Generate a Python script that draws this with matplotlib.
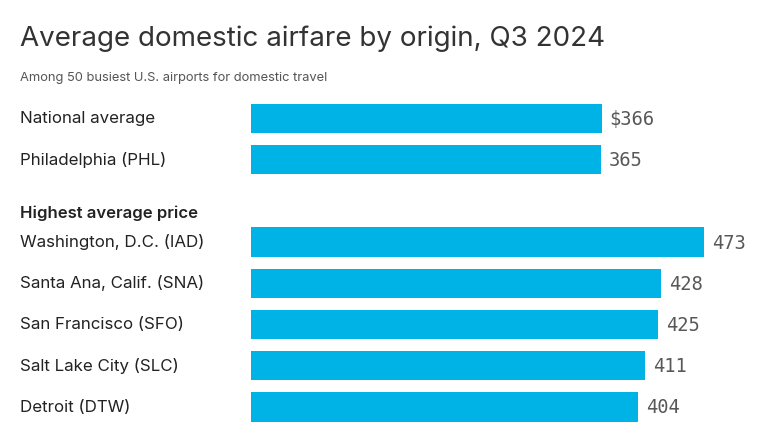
import matplotlib
matplotlib.use("Agg")
import matplotlib.pyplot as plt
from matplotlib.transforms import blended_transform_factory

labels = ["National average", "Philadelphia (PHL)", "Washington, D.C. (IAD)",
          "Santa Ana, Calif. (SNA)", "San Francisco (SFO)", "Salt Lake City (SLC)",
          "Detroit (DTW)"]
values = [366, 365, 473, 428, 425, 411, 404]
row_pos = [0, 1, 3, 4, 5, 6, 7]
section_header = "Highest average price"
title = "Average domestic airfare by origin, Q3 2024"
subtitle = "Among 50 busiest U.S. airports for domestic travel"

W, H = 768, 432
fig = plt.figure(figsize=(W / 100, H / 100), dpi=100)
fig.patch.set_facecolor("white")

BAR = "#00b3e6"
step = 41.2
top_c = 118.5
ax_top = top_c - step / 2
ax_bot = top_c + 7 * step + step / 2
x0, x1 = 251, 704
ax = fig.add_axes([x0 / W, 1 - ax_bot / H, (x1 - x0) / W, (ax_bot - ax_top) / H])
ax.set_xlim(0, max(values))
ax.set_ylim(7.5, -0.5)
ax.axis("off")

ax.barh(row_pos, values, height=0.71, color=BAR, edgecolor="none")

tr = blended_transform_factory(fig.transFigure, ax.transData)
for i, (lab, v, y) in enumerate(zip(labels, values, row_pos)):
    ax.annotate(lab, (20 / W, y), xycoords=tr, xytext=(0, -4.8),
                textcoords="offset pixels", ha="left", va="baseline",
                fontsize=12.2, color="#222222", family="Inter")
    txt = f"${v}" if i == 0 else f"{v}"
    ax.annotate(txt, (v, y), xytext=(8, -6.5), textcoords="offset pixels",
                ha="left", va="baseline", fontsize=13.5, color="#585858",
                family="DejaVu Sans Mono", annotation_clip=False)

ax.annotate(section_header, (20 / W, (212.7 - top_c) / step), xycoords=tr,
            xytext=(0, -5.6), textcoords="offset pixels", ha="left",
            va="baseline", fontsize=12, color="#222222", family="Inter",
            fontweight="semibold")

fig.text(20 / W, 1 - 46.5 / H, title, ha="left", va="baseline", fontsize=20,
         color="#333333", family="Inter")
fig.text(20 / W, 1 - 81.5 / H, subtitle, ha="left", va="baseline", fontsize=9.3,
         color="#555555", family="Inter")

fig.savefig("out.png", dpi=100)
